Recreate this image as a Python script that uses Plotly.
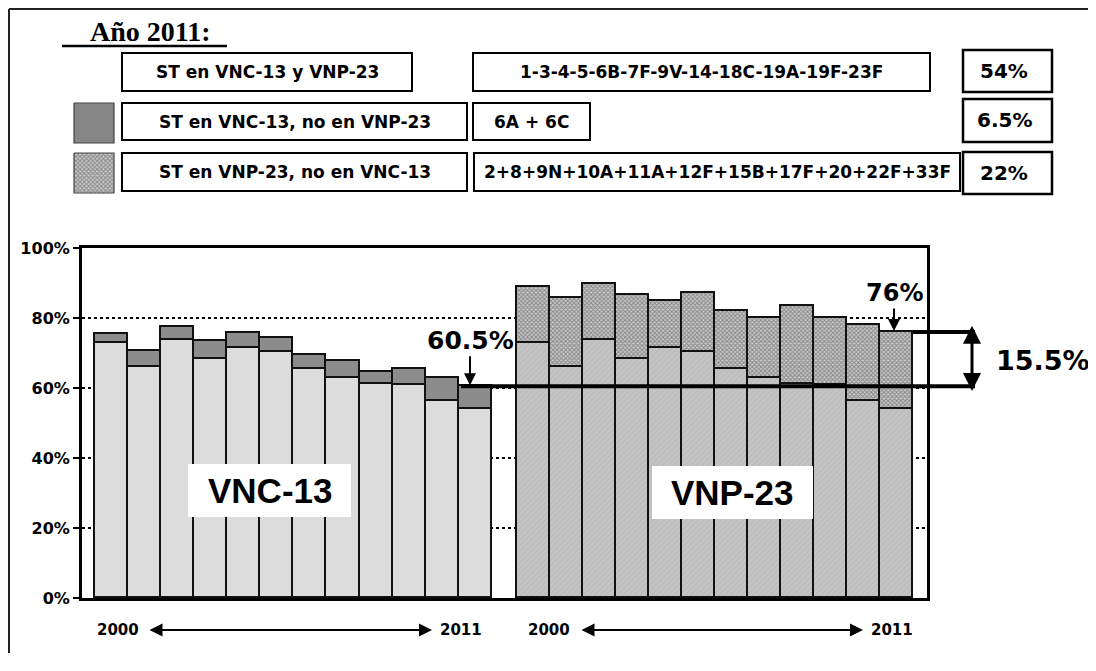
import plotly.graph_objects as go

# ---------------- data ----------------
years = [2000, 2001, 2002, 2003, 2004, 2005, 2006, 2007, 2008, 2009, 2010, 2011]
# % of serotypes included in both vaccines
comunes = [72.9, 65.9, 73.7, 68.4, 71.3, 70.2, 65.4, 63.0, 61.2, 61.0, 56.2, 54.0]
# % of serotypes only in VNC-13 (6A + 6C)
solo_vnc13 = [2.5, 4.7, 3.8, 5.0, 4.4, 4.2, 4.0, 4.7, 3.4, 4.5, 6.7, 6.5]
# % of serotypes only in VNP-23
solo_vnp23 = [16.0, 19.9, 15.9, 18.1, 13.5, 17.0, 16.7, 17.1, 22.3, 19.1, 21.8, 22.0]
y_ticks = [0, 20, 40, 60, 80, 100]
y_tick_labels = ["0%", "20%", "40%", "60%", "80%", "100%"]

legend_rows = [
    ("ST en VNC-13 y VNP-23", "1-3-4-5-6B-7F-9V-14-18C-19A-19F-23F", "54%"),
    ("ST en VNC-13, no en VNP-23", "6A + 6C", "6.5%"),
    ("ST en VNP-23, no en VNC-13", "2+8+9N+10A+11A+12F+15B+17F+20+22F+33F", "22%"),
]

# ---------------- layout helpers ----------------
OFF = 8  # page body margin: figure starts 8px into the window
W, H = 1096 - OFF, 645
FONT = "DejaVu Sans"


def px(x):
    return (x - OFF) / W


def py(y):
    return 1 - (y - OFF) / H


GAP = 0.75
vnc_x = [i for i in range(len(years))]
vnp_x = [i + len(years) + GAP for i in range(len(years))]

LIGHT = "#dcdcdc"
DARK = "#8c8c8c"
MID = "#c2c2c2"
edge = dict(color="#111111", width=1.8)
pat_vnp = dict(shape="x", fgcolor="#4a4a4a", bgcolor="#c8c8c8", size=3, solidity=0.55)
pat_vnp_base = dict(shape="/", fgcolor="#b0b0b0", bgcolor="#c4c4c4", size=4, solidity=0.3)

fig = go.Figure()
fig.add_trace(go.Bar(x=vnc_x, y=comunes, width=1, marker=dict(color=LIGHT, line=edge),
                     name="ST en VNC-13 y VNP-23", customdata=years))
fig.add_trace(go.Bar(x=vnc_x, y=solo_vnc13, width=1, marker=dict(color=DARK, line=edge),
                     name="ST en VNC-13, no en VNP-23", customdata=years))
fig.add_trace(go.Bar(x=vnp_x, y=comunes, width=1,
                     marker=dict(color=MID, line=edge, pattern=pat_vnp_base),
                     name="ST en VNC-13 y VNP-23 ", customdata=years))
fig.add_trace(go.Bar(x=vnp_x, y=solo_vnp23, width=1,
                     marker=dict(color="#a0a0a0", line=edge, pattern=pat_vnp),
                     name="ST en VNP-23, no en VNC-13", customdata=years))

# legend squares drawn on a pixel overlay axis (so they can carry a pattern)
sq_x = [74, 114, 114, 74, 74]
fig.add_trace(go.Scatter(x=sq_x, y=[103, 103, 143, 143, 103], fill="toself", mode="lines",
                         fillcolor="#858585", line=dict(color="#444", width=1.2),
                         xaxis="x2", yaxis="y2", hoverinfo="skip"))
fig.add_trace(go.Scatter(x=sq_x, y=[153, 153, 193, 193, 153], fill="toself", mode="lines",
                         fillcolor="#a0a0a0", fillpattern=pat_vnp,
                         line=dict(color="#444", width=1.2),
                         xaxis="x2", yaxis="y2", hoverinfo="skip"))

fig.update_layout(
    width=W, height=H, autosize=False, barmode="stack", bargap=0, showlegend=False,
    margin=dict(l=0, r=0, t=0, b=0, pad=0, autoexpand=False),
    paper_bgcolor="white", plot_bgcolor="rgba(0,0,0,0)",
    xaxis=dict(domain=[px(82), px(927)], range=[-0.893, 24.66], showticklabels=False,
               showgrid=False, zeroline=False, ticks="", showline=True, linecolor="black",
               linewidth=3, mirror=True, automargin=False),
    yaxis=dict(domain=[py(598), py(248)], range=[0, 100], tickvals=y_ticks,
               ticktext=[f"<b>{t}</b>" for t in y_tick_labels],
               tickfont=dict(family=FONT, size=16, color="black"),
               showgrid=True, gridcolor="black", gridwidth=1.5, griddash="dot",
               zeroline=False, ticks="outside", ticklen=6, tickcolor="black", tickwidth=1.5,
               showline=True, linecolor="black", linewidth=3, mirror=True, automargin=False),
    xaxis2=dict(domain=[0, 1], range=[OFF, W + OFF], visible=False, showticklabels=False,
                fixedrange=True, automargin=False, anchor="y2"),
    yaxis2=dict(domain=[0, 1], range=[H + OFF, OFF], visible=False, showticklabels=False,
                fixedrange=True, anchor="x2", automargin=False),
)

shapes = []
annotations = []


def label(text, x, y, size, family=FONT, xref="paper", yref="paper"):
    return dict(text=text, xref=xref, yref=yref, x=x, y=y, showarrow=False,
                xanchor="center", yanchor="middle",
                font=dict(family=family, size=size, color="black"))


# outer frame (top and left)
shapes.append(dict(type="line", xref="paper", yref="paper", x0=px(9), x1=1, y0=py(9), y1=py(9),
                   line=dict(color="#222", width=2)))
shapes.append(dict(type="line", xref="paper", yref="paper", x0=px(9), x1=px(9), y0=py(9), y1=0,
                   line=dict(color="#222", width=2)))

# title
annotations.append(label("<b>Año 2011:</b>", px(150), py(31), 28, family="Liberation Serif"))
shapes.append(dict(type="line", xref="paper", yref="paper", x0=px(62), x1=px(227), y0=py(46), y1=py(46),
                   line=dict(color="black", width=2.5)))

# legend boxes
row_y = [(53, 91), (103, 140), (153, 191)]
box_a = [(122, 412), (122, 467), (122, 467)]
box_b = [(473, 930), (473, 590), (474, 960)]
box_c = [(50, 92), (99, 142), (152, 194)]
for i, (lab, sts, pct) in enumerate(legend_rows):
    y0, y1 = row_y[i]
    for (x0, x1) in (box_a[i], box_b[i]):
        shapes.append(dict(type="rect", xref="paper", yref="paper", x0=px(x0), x1=px(x1),
                           y0=py(y1), y1=py(y0), line=dict(color="black", width=2),
                           fillcolor="white"))
    c0, c1 = box_c[i]
    shapes.append(dict(type="rect", xref="paper", yref="paper", x0=px(963), x1=px(1052),
                       y0=py(c1), y1=py(c0), line=dict(color="black", width=2.5), fillcolor="white"))
    for (x0, x1), txt in ((box_a[i], lab), (box_b[i], sts)):
        annotations.append(label(f"<b>{txt}</b>", px((x0 + x1) / 2), py((y0 + y1) / 2), 17))
    annotations.append(label(f"<b>{pct}</b>", px(1004), py((c0 + c1) / 2), 20))

# vaccine labels on white boxes
for (x0, x1, y0, y1, txt) in ((188, 351, 464, 517, "VNC-13"), (652, 813, 466, 519, "VNP-23")):
    shapes.append(dict(type="rect", xref="paper", yref="paper", x0=px(x0), x1=px(x1),
                       y0=py(y1), y1=py(y0), line=dict(width=0), fillcolor="white"))
    annotations.append(label(f"<b>{txt}</b>", px((x0 + x1) / 2), py((y0 + y1) / 2), 35,
                             family="Liberation Sans"))

# reference levels from data (2011)
vnc_2011 = comunes[-1] + solo_vnc13[-1]
vnp_2011 = comunes[-1] + solo_vnp23[-1]
diff = vnp_2011 - vnc_2011

shapes.append(dict(type="line", xref="paper", yref="y", x0=px(461), x1=px(975), y0=vnc_2011, y1=vnc_2011,
                   line=dict(color="black", width=4)))
shapes.append(dict(type="line", xref="paper", yref="y", x0=px(913), x1=px(975), y0=vnp_2011, y1=vnp_2011,
                   line=dict(color="black", width=4)))

annotations.append(dict(text=f"<b>{vnc_2011:g}%</b>", xref="paper", yref="y", x=px(470), y=vnc_2011,
                        ax=0, ay=-46, showarrow=True, arrowhead=2, arrowsize=1.2, arrowwidth=2,
                        arrowcolor="black", standoff=1, xanchor="center", yanchor="middle",
                        font=dict(family=FONT, size=25, color="black")))
annotations.append(dict(text=f"<b>{vnp_2011:g}%</b>", xref="paper", yref="y", x=px(894), y=vnp_2011,
                        ax=0, ay=-39, showarrow=True, arrowhead=2, arrowsize=1.2, arrowwidth=2,
                        arrowcolor="black", standoff=1, xanchor="center", yanchor="middle",
                        font=dict(family=FONT, size=24, color="black")))
# double arrow for difference (heads slightly beyond the two reference lines)
annotations.append(dict(text="", xref="paper", yref="y", x=px(972), y=vnp_2011 + 1.8,
                        axref="pixel", ayref="y", ax=0, ay=vnc_2011 - 1.8, showarrow=True,
                        arrowside="end+start", arrowhead=2, arrowsize=1.2, arrowwidth=3,
                        arrowcolor="black"))
annotations.append(label(f"<b>{diff:g}%</b>", px(1043), py(360), 27))

# year range arrows under each block
for (lx, a0, a1, rx) in ((118, 148, 432, 461), (549, 580, 863, 892)):
    annotations.append(label(f"<b>{years[0]}</b>", px(lx), py(630), 15))
    annotations.append(label(f"<b>{years[-1]}</b>", px(rx), py(630), 15))
    annotations.append(dict(text="", xref="paper", yref="paper", x=px(a1), y=py(630),
                            ax=a0 - a1, ay=0, showarrow=True, arrowside="end+start", arrowhead=2,
                            arrowsize=1.3, arrowwidth=2, arrowcolor="black"))

fig.update_layout(shapes=shapes, annotations=annotations)
fig.write_html("out.html")
